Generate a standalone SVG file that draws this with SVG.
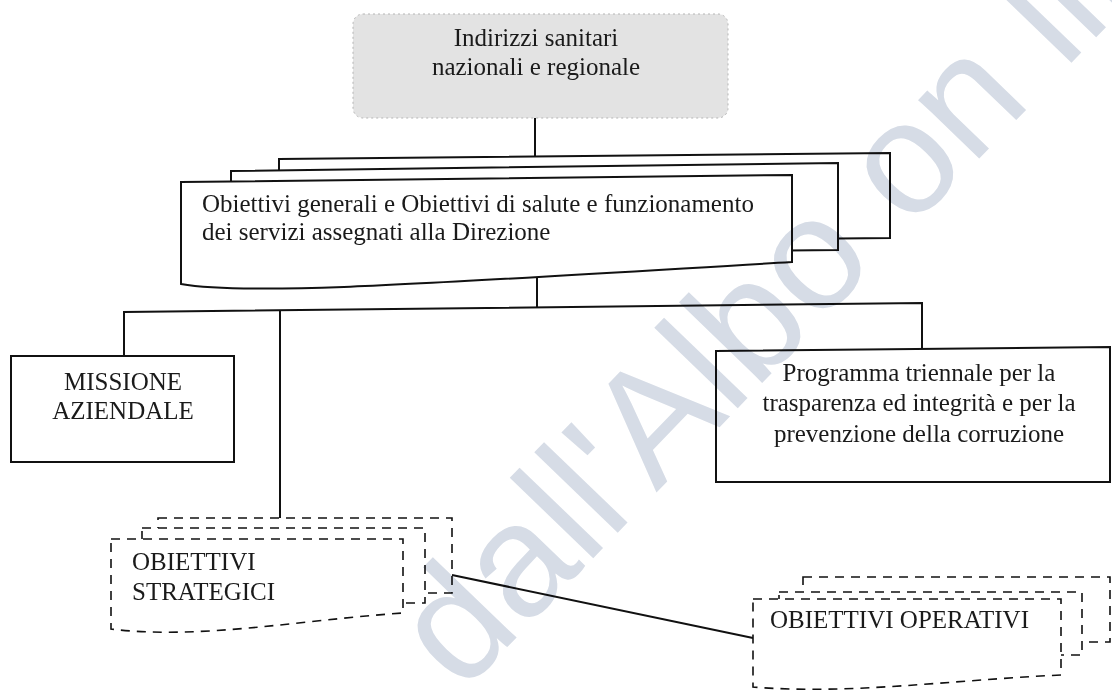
<svg xmlns="http://www.w3.org/2000/svg" width="1112" height="690" viewBox="0 0 1112 690">
<style>
  .t { font-family: "Liberation Serif", "Times New Roman", serif; font-size: 25px; fill: #1a1a1a; }
  .solid { fill: #ffffff; stroke: #111111; stroke-width: 2; stroke-linejoin: miter; }
  .dash { fill: #ffffff; stroke: #111111; stroke-width: 1.6; stroke-dasharray: 9 7; }
  .conn { fill: none; stroke: #111111; stroke-width: 2; }
  .wm { font-family: "Liberation Sans", Arial, sans-serif; font-size: 160px; fill: #d6dce6; mix-blend-mode: multiply; }
</style>
<rect x="0" y="0" width="1112" height="690" fill="#ffffff"/>

<g id="connectors">
  <line class="conn" x1="535" y1="118" x2="535" y2="157"/>
  <line class="conn" x1="537" y1="277" x2="537" y2="308"/>
  <polyline class="conn" points="124,356 124,312 922,303 922,349"/>
  <line class="conn" x1="280" y1="311" x2="280" y2="518"/>
  <line class="conn" x1="452" y1="575" x2="753" y2="638"/>
</g>

<g id="node-indirizzi">
  <rect x="353" y="14" width="375" height="104" rx="10" fill="#e3e3e3" stroke="#b5b5b5" stroke-width="1" stroke-dasharray="2 3"/>
  <text class="t" x="536" y="46" text-anchor="middle">Indirizzi sanitari</text>
  <text class="t" x="536" y="75" text-anchor="middle">nazionali e regionale</text>
</g>

<g id="node-obiettivi-generali">
  <path class="solid" d="M279,159 L890,153 L890,238 L279,244 Z"/>
  <path class="solid" d="M231,171 L838,163 L838,250 L231,256 Z"/>
  <path class="solid" d="M181,182 L792,175 L792,262 C420,284 250,296 181,284 Z"/>
  <text class="t" x="202" y="212">Obiettivi generali e Obiettivi di salute e funzionamento</text>
  <text class="t" x="202" y="240">dei servizi assegnati alla Direzione</text>
</g>

<g id="node-missione">
  <rect class="solid" x="11" y="356" width="223" height="106"/>
  <text class="t" x="123" y="390" text-anchor="middle">MISSIONE</text>
  <text class="t" x="123" y="419" text-anchor="middle">AZIENDALE</text>
</g>

<g id="node-programma">
  <path class="solid" d="M716,351 L1110,347 L1110,482 L716,482 Z"/>
  <text class="t" x="919" y="381" text-anchor="middle">Programma triennale per la</text>
  <text class="t" x="919" y="411" text-anchor="middle">trasparenza ed integrità e per la</text>
  <text class="t" x="919" y="442" text-anchor="middle">prevenzione della corruzione</text>
</g>

<g id="node-strategici">
  <path class="dash" d="M158,518 L452,518 L452,593 L158,593 Z"/>
  <path class="dash" d="M142,528 L425,528 L425,603 L142,603 Z"/>
  <path class="dash" d="M111,539 L403,539 L403,613 C300,620 200,640 111,629 Z"/>
  <text class="t" x="132" y="570">OBIETTIVI</text>
  <text class="t" x="132" y="600">STRATEGICI</text>
</g>

<g id="node-operativi">
  <path class="dash" d="M803,577 L1110,577 L1110,642 L803,642 Z"/>
  <path class="dash" d="M779,592 L1082,592 L1082,655 L779,655 Z"/>
  <path class="dash" d="M753,599 L1061,599 L1061,675 C950,680 850,695 753,687 Z"/>
  <text class="t" x="770" y="628">OBIETTIVI OPERATIVI</text>
</g>

<g id="watermark">
  <text class="wm" transform="translate(462,694) rotate(-46)">dall'Albo on line</text>
</g>
</svg>
